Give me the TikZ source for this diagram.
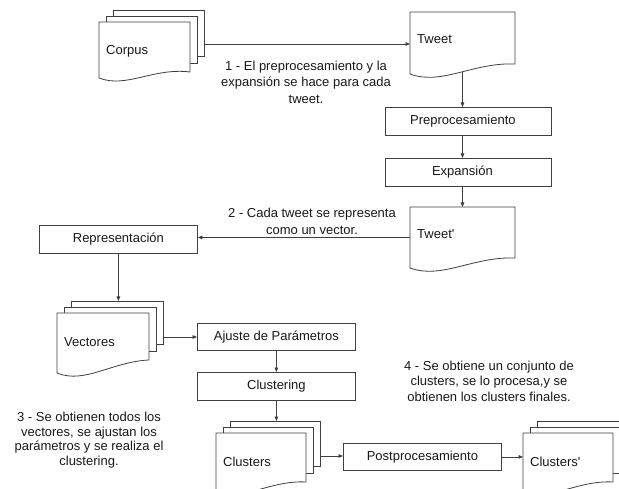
\documentclass[tikz,border=0pt]{standalone}
\usepackage{fontspec}
\setmainfont{Liberation Sans}
\usetikzlibrary{arrows.meta}

\pgfdeclarelayer{paper}
\pgfdeclarelayer{bg}
\pgfsetlayers{paper,bg,main}

\tikzset{
  shapeline/.style={draw=black!75, line width=0.8pt, fill=white},
  procbox/.style={rectangle, draw=black!75, line width=0.8pt, fill=white,
    inner sep=0pt, anchor=north west, text=black!90,
    font=\fontsize{13}{16}\selectfont},
  flow/.style={draw=black!75, line width=0.8pt,
    -{Triangle[length=4.5pt,width=3.6pt]}},
  note/.style={align=center, inner sep=0pt, text=black!90},
  doctext/.style={anchor=west, inner sep=0pt, text=black!90,
    font=\fontsize{13}{16}\selectfont},
  frame/.style={rectangle, draw=none, inner sep=0pt, outer sep=0pt,
    anchor=north west},
}

% single document: name, x, y, width, left height, right height, text
\newcommand\docshape[7]{%
  \pgfmathsetmacro\dsR{#2+#4}%
  \pgfmathsetmacro\dsL{#3+#5}%
  \pgfmathsetmacro\dsRb{#3+#6}%
  \pgfmathsetmacro\dsA{0.19*#5}%
  \pgfmathsetmacro\dsPa{#2+0.6*#4}%
  \pgfmathsetmacro\dsPb{#2+0.3*#4}%
  \path[shapeline] (#2,#3) -- (\dsR,#3) -- (\dsR,\dsRb)
    .. controls (\dsPa,\dsL-\dsA) and (\dsPb,\dsL+\dsA) .. (#2,\dsL) -- cycle;
  \node[frame, minimum width=#4pt, minimum height=#5pt] (#1) at (#2,#3) {};
  \node[doctext] (#1-text) at (#2+7,#3+27) {#7};
}

% stacked documents: name, x, y, width, left height, right height, text
\newcommand\multidoc[7]{%
  \pgfmathsetmacro\dsR{#2+#4}%
  \pgfmathsetmacro\dsL{#3+#5}%
  \pgfmathsetmacro\dsRb{#3+#6}%
  \pgfmathsetmacro\dsA{0.19*#5}%
  \pgfmathsetmacro\dsPa{#2+0.6*#4}%
  \pgfmathsetmacro\dsPb{#2+0.3*#4}%
  \path[shapeline] (#2+14,#3-12) rectangle (\dsR+14,\dsRb-16);
  \path[shapeline] (#2+7,#3-6) rectangle (\dsR+7,\dsRb-9);
  \path[shapeline] (#2,#3) -- (\dsR,#3) -- (\dsR,\dsRb)
    .. controls (\dsPa,\dsL-\dsA) and (\dsPb,\dsL+\dsA) .. (#2,\dsL) -- cycle;
  \node[frame, minimum width=#4pt+14pt, minimum height=#5pt+12pt]
    (#1) at (#2,#3-12) {};
  \node[doctext] (#1-text) at (#2+7,#3+29) {#7};
}

\begin{document}
\begin{tikzpicture}[x=1pt,y=-1pt]
  \begin{pgfonlayer}{paper}
    \fill[white] (0,0) rectangle (619,489);
  \end{pgfonlayer}
  \useasboundingbox (0,0) rectangle (619,489);
  \clip (0,0) rectangle (619,489);

  % sources and intermediate documents
  \multidoc{corpus}{99}{22}{91}{56}{50}{Corpus}
  \docshape{tweet}{410}{12}{105}{62}{52}{Tweet}
  \docshape{tweetp}{410}{207}{105}{61}{51}{Tweet\textquotesingle}
  \multidoc{vectores}{57}{313}{92}{60}{47}{Vectores}
  \multidoc{clusters}{216}{433}{90}{58}{49}{Clusters}
  \multidoc{clustersp}{523}{433}{90}{58}{49}{Clusters\textquotesingle}

  % processing steps
  \node[procbox, minimum width=166pt, minimum height=28pt] (prep) at (385,107) {Preprocesamiento\hspace*{11pt}};
  \node[procbox, minimum width=166pt, minimum height=28pt] (exp) at (385,158) {Expansión\hspace*{12pt}};
  \node[procbox, minimum width=158pt, minimum height=28pt] (repr) at (39,225) {Representación};
  \node[procbox, minimum width=158pt, minimum height=27pt] (ajuste) at (197,323) {Ajuste de Parámetros};
  \node[procbox, minimum width=158pt, minimum height=28pt] (clustering) at (197,372) {Clustering};
  \node[procbox, minimum width=158pt, minimum height=27pt] (post) at (343,443) {Postprocesamiento};

  % annotations
  \node[note, font=\fontsize{13}{16.3}\selectfont] (n1) at (306,82.3)
    {1 - El preprocesamiento y la\\expansión se hace para cada\\tweet.};
  \node[note, font=\fontsize{13}{16.7}\selectfont] (n2) at (312,221.3)
    {2 - Cada tweet se representa\\como un vector.};
  \node[note, font=\fontsize{13}{14.5}\selectfont] (n3) at (89,440)
    {3 - Se obtienen todos los\\vectores, se ajustan los\\parámetros y se realiza el\\clustering.};
  \node[note, font=\fontsize{13}{15.3}\selectfont] (n4) at (489,381.3)
    {4 - Se obtiene un conjunto de\\clusters, se lo procesa,y se\\obtienen los clusters finales.};

  % connectors, kept beneath the shapes
  \begin{pgfonlayer}{bg}
    \draw[flow] (corpus.east) -- (corpus.east -| tweet.west);
    \draw[flow] (tweet.center) -- (tweet.center |- prep.north);
    \draw[flow] (prep.south -| tweet.center) -- (exp.north -| tweet.center);
    \draw[flow] (exp.south -| tweet.center) -- (tweetp.north -| tweet.center);
    \draw[flow] (tweetp.west) -- (tweetp.west -| repr.east);
    \draw[flow] (repr.south) -- (repr.south |- vectores.north);
    \draw[flow] (vectores.east) -- (vectores.east -| ajuste.west);
    \draw[flow] (ajuste.south) -- (clustering.north);
    \draw[flow] (clustering.south) -- (clustering.south |- clusters.north);
    \draw[flow] (clusters.east) -- (clusters.east -| post.west);
    \draw[flow] (post.east) -- (post.east -| clustersp.west);
  \end{pgfonlayer}
\end{tikzpicture}
\end{document}
